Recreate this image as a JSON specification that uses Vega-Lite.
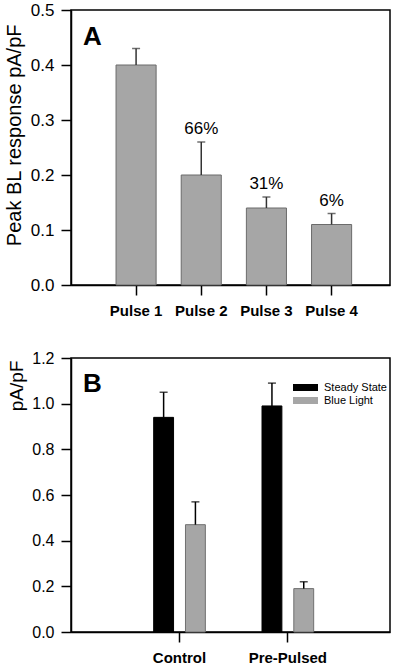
{
  "$schema": "https://vega.github.io/schema/vega-lite/v6.json",
  "padding": {"left": 3, "top": 0, "right": 5, "bottom": 2},
  "spacing": 30,
  "resolve": {"legend": {"fill": "independent", "stroke": "independent"}},
  "config": {
    "font": "Liberation Sans",
    "view": {"stroke": "black", "strokeWidth": 1.5},
    "axis": {"domainColor": "black", "domainWidth": 1.5, "tickColor": "black", "tickWidth": 1.5, "tickSize": 10, "labelColor": "black", "titleColor": "black", "grid": false, "titleFontWeight": "normal"}
  },
  "vconcat": [
    {
      "width": 319,
      "height": 275,
      "title": {"text": "A", "anchor": "start", "frame": "group", "orient": "top", "offset": 0, "dx": 12, "dy": 49, "fontSize": 26, "fontWeight": "bold", "color": "black"},
      "data": {"values": [
        {"pulse": "Pulse 1", "value": 0.40, "err": 0.43, "pct": ""},
        {"pulse": "Pulse 2", "value": 0.20, "err": 0.26, "pct": "66%"},
        {"pulse": "Pulse 3", "value": 0.14, "err": 0.16, "pct": "31%"},
        {"pulse": "Pulse 4", "value": 0.11, "err": 0.13, "pct": "6%"}
      ]},
      "encoding": {
        "x": {"field": "pulse", "type": "nominal", "sort": null,
              "scale": {"paddingInner": 0.385, "paddingOuter": 0.64, "align": 0.54},
              "axis": {"labelAngle": 0, "labelFontWeight": "bold", "labelFontSize": 15, "labelPadding": 8, "title": null}}
      },
      "layer": [
        {"mark": {"type": "bar", "fill": "#a6a6a6", "stroke": "#6b6b6b", "strokeWidth": 1},
         "encoding": {"y": {"field": "value", "type": "quantitative",
           "scale": {"domain": [0, 0.5], "nice": false},
           "axis": {"values": [0, 0.1, 0.2, 0.3, 0.4, 0.5], "format": ".1f", "labelFontSize": 17, "labelPadding": 7, "title": "Peak BL response pA/pF", "titleFontSize": 20, "titleAnchor": "end", "titleY": 14, "titlePadding": 6}}}},
        {"mark": {"type": "rule", "color": "#333333", "strokeWidth": 1.5},
         "encoding": {"y": {"field": "value", "type": "quantitative"}, "y2": {"field": "err"}}},
        {"mark": {"type": "tick", "color": "#333333", "thickness": 1.5, "size": 8, "orient": "horizontal"},
         "encoding": {"y": {"field": "err", "type": "quantitative"}}},
        {"transform": [{"filter": "datum.pct != ''"}],
         "mark": {"type": "text", "fontSize": 17, "baseline": "bottom", "dy": -4, "color": "black"},
         "encoding": {"y": {"field": "err", "type": "quantitative"}, "text": {"field": "pct"}}}
      ]
    },
    {
      "width": 319,
      "height": 274,
      "title": {"text": "B", "anchor": "start", "frame": "group", "orient": "top", "offset": 0, "dx": 12, "dy": 47, "fontSize": 26, "fontWeight": "bold", "color": "black"},
      "data": {"values": [
        {"group": "Control", "series": "Steady State", "value": 0.94, "err": 1.05},
        {"group": "Control", "series": "Blue Light", "value": 0.47, "err": 0.57},
        {"group": "Pre-Pulsed", "series": "Steady State", "value": 0.99, "err": 1.09},
        {"group": "Pre-Pulsed", "series": "Blue Light", "value": 0.19, "err": 0.22}
      ]},
      "encoding": {
        "x": {"field": "group", "type": "nominal", "sort": null,
              "scale": {"paddingInner": 0.523, "paddingOuter": 0.734, "align": 0.52},
              "axis": {"labelAngle": 0, "labelFontWeight": "bold", "labelFontSize": 15, "labelPadding": 8, "title": null}},
        "xOffset": {"field": "series", "type": "nominal", "sort": ["Steady State", "Blue Light"],
                    "scale": {"domain": ["Steady State", "Blue Light"], "paddingInner": 0.375, "paddingOuter": 0}}
      },
      "layer": [
        {"mark": {"type": "bar", "strokeWidth": 1},
         "encoding": {
           "y": {"field": "value", "type": "quantitative",
             "scale": {"domain": [0, 1.2], "nice": false},
             "axis": {"values": [0, 0.2, 0.4, 0.6, 0.8, 1.0, 1.2], "format": ".1f", "labelFontSize": 16, "labelPadding": 7, "title": "pA/pF", "titleFontSize": 19, "titleAnchor": "end", "titleY": 2, "titlePadding": 5}},
           "fill": {"field": "series", "type": "nominal",
             "scale": {"domain": ["Steady State", "Blue Light"], "range": ["#000000", "#a6a6a6"]},
             "legend": {"title": null, "orient": "none", "legendX": 229, "legendY": 24, "padding": 0,
                        "symbolType": "M-2.5,-0.7H2.5V0.7H-2.5Z", "symbolSize": 100, "symbolStrokeWidth": 0,
                        "labelFontSize": 11, "labelColor": "black", "labelOffset": 13, "rowPadding": 1}},
           "stroke": {"field": "series", "type": "nominal",
             "scale": {"domain": ["Steady State", "Blue Light"], "range": ["#000000", "#707070"]},
             "legend": null}
         }},
        {"mark": {"type": "rule", "color": "black", "strokeWidth": 1.5},
         "encoding": {"y": {"field": "value", "type": "quantitative"}, "y2": {"field": "err"}}},
        {"mark": {"type": "tick", "color": "black", "thickness": 1.5, "size": 8, "orient": "horizontal"},
         "encoding": {"y": {"field": "err", "type": "quantitative"}}}
      ]
    }
  ]
}
